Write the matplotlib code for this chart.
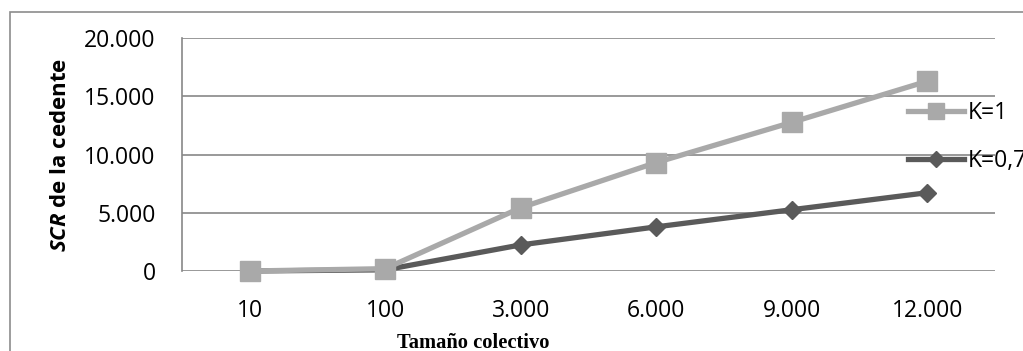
import matplotlib.pyplot as plt
from matplotlib.patches import Rectangle

# chart data
categories = ["10", "100", "3.000", "6.000", "9.000", "12.000"]
k1 = [0, 200, 5430, 9310, 12760, 16290]
k07 = [0, 100, 2240, 3790, 5260, 6720]
yticks = [0, 5000, 10000, 15000, 20000]
ytick_labels = ["0", "5.000", "10.000", "15.000", "20.000"]

plt.rcParams['font.family'] = ['Open Sans', 'DejaVu Sans']
plt.rcParams['mathtext.fontset'] = 'custom'
plt.rcParams['mathtext.it'] = 'Open Sans:italic:bold'
plt.rcParams['mathtext.rm'] = 'Open Sans:bold'

W, H = 1023, 351
fig = plt.figure(figsize=(W / 100, H / 100), dpi=100)
ax = fig.add_axes([182 / W, 1 - 271 / H, 813 / W, 233 / H])

grid_col = '#878787'
light = '#A9A9A9'
dark = '#5A5A5A'
fs = 16.5

# outer chart frame (runs off the right and bottom edges)
fig.patches.append(Rectangle((10 / W, -0.1), 1.2, 1 - 12 / H + 0.1,
                             transform=fig.transFigure, fill=False,
                             edgecolor='#8C8C8C', linewidth=1.2))

x = list(range(len(categories)))
l07, = ax.plot(x, k07, color=dark, linewidth=3.8, marker='D', markersize=9.5,
               label='K=0,7', zorder=3, clip_on=False)
l1, = ax.plot(x, k1, color=light, linewidth=3.8, marker='s', markersize=14,
              label='K=1', zorder=4, clip_on=False)

ax.set_xlim(-0.5, 5.5)
ax.set_ylim(0, 20000)
ax.set_xticks(x)
ax.set_xticklabels(categories)
ax.set_yticks(yticks)
ax.set_yticklabels(ytick_labels)
ax.tick_params(axis='both', length=0, labelsize=fs, colors='black')
ax.tick_params(axis='x', pad=20)
ax.tick_params(axis='y', pad=19)

ax.grid(axis='y', color=grid_col, linewidth=1.2)
ax.set_axisbelow(True)
for s in ['top', 'right', 'bottom']:
    ax.spines[s].set_visible(False)
ax.spines['left'].set_color(grid_col)
ax.spines['left'].set_linewidth(1.2)

ax.set_ylabel(r"$\mathit{SCR}$ de la cedente", fontsize=16, fontweight='bold')
ax.yaxis.set_label_coords(-0.136, 0.5)

fig.text(473 / W, 1 - 343 / H, "Tamaño colectivo", family='Liberation Serif',
         fontweight='bold', fontsize=14.8, ha='center', va='center')

leg = ax.legend(handles=[l1, l07], loc='upper left',
                bbox_to_anchor=(908 / W, 1 - 101 / H), bbox_transform=fig.transFigure,
                frameon=False, fontsize=fs, handlelength=2.45, handletextpad=0.15,
                labelspacing=1.05, borderpad=0, borderaxespad=0, markerscale=0.85)

fig.savefig('out.png', dpi=100)
